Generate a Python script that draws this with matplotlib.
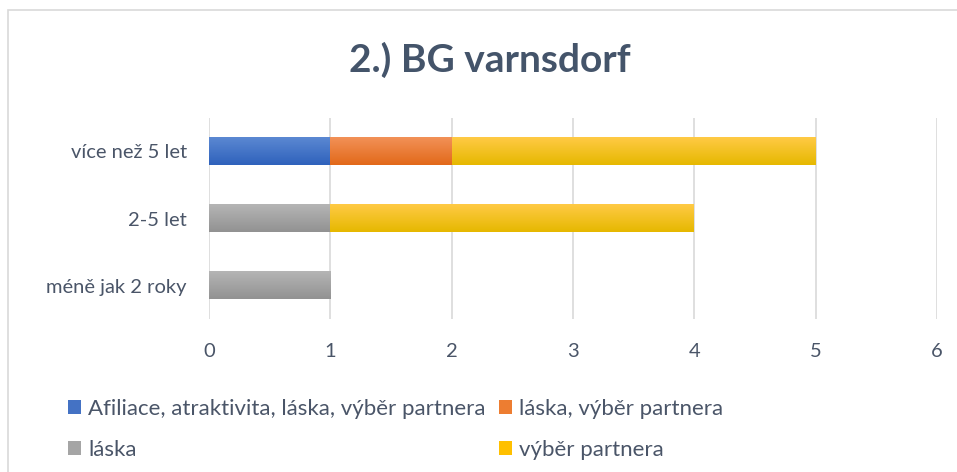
import numpy as np
import matplotlib.pyplot as plt
from matplotlib.patches import Rectangle
from matplotlib.colors import LinearSegmentedColormap

categories = ["méně jak 2 roky", "2-5 let", "více než 5 let"]
series_names = ["Afiliace, atraktivita, láska, výběr partnera", "láska, výběr partnera",
                "láska", "výběr partnera"]
afiliace = [0, 0, 1]
laska_vyber = [0, 0, 1]
laska = [1, 1, 0]
vyber = [0, 3, 3]
colors = ["#4472C4", "#ED7D31", "#A5A5A5", "#FFC000"]
# light top / darker bottom for the bar shading
grad_top = ["#5B88D2", "#F29157", "#B5B5B5", "#FFCA45"]
grad_bot = ["#2F62BC", "#E2691A", "#929292", "#E6B800"]
x_ticks = [0, 1, 2, 3, 4, 5, 6]

plt.rcParams['font.family'] = ['Lato', 'DejaVu Sans']
text_col = "#4A5568"

fig = plt.figure(figsize=(9.57, 4.72), dpi=100)
fig.patches.append(Rectangle((8 / 957, -0.1), 1.2, 1 - 10 / 472 + 0.1, transform=fig.transFigure,
                             fill=False, edgecolor="#D9D9D9", linewidth=1.2))

ax = fig.add_axes([209 / 957, 1 - 319 / 472, 728 / 957, 201 / 472])

y = range(len(categories))
left = [0] * len(categories)
bars = []
for i, (vals, name, c) in enumerate(zip([afiliace, laska_vyber, laska, vyber], series_names, colors)):
    b = ax.barh(y, vals, left=left, height=0.41, color=c, label=name, zorder=3)
    bars.append(b)
    cmap = LinearSegmentedColormap.from_list("g%d" % i, [grad_bot[i], grad_top[i]])
    for r in b.patches:
        if r.get_width() <= 0:
            continue
        x0, y0 = r.get_x(), r.get_y()
        ax.imshow(np.linspace(0, 1, 50).reshape(-1, 1), cmap=cmap, origin="lower", aspect="auto",
                  extent=[x0, x0 + r.get_width(), y0, y0 + r.get_height()], zorder=4)
    left = [l + v for l, v in zip(left, vals)]

ax.set_xlim(0, 6)
ax.set_ylim(-0.5, 2.5)
ax.set_xticks(x_ticks)
ax.set_yticks(list(y))
ax.set_yticklabels(categories)
ax.grid(axis="x", color="#D9D9D9", linewidth=1.2, zorder=0)
for s in ax.spines.values():
    s.set_visible(False)
ax.tick_params(length=0, labelsize=14.5, labelcolor=text_col)
ax.tick_params(axis="y", pad=16)
ax.tick_params(axis="x", pad=17)

fig.text(490 / 957, 1 - 60 / 472, "2.) BG varnsdorf", ha="center", va="center",
         fontsize=28, fontweight="bold", color="#44546A")

handles = [bars[0], bars[2], bars[1], bars[3]]
labels = [series_names[0], series_names[2], series_names[1], series_names[3]]
fig.legend(handles, labels, ncol=2, loc="upper left", bbox_to_anchor=(48 / 957, 1 - 379 / 472),
           frameon=False, fontsize=16, labelcolor=text_col, handlelength=0.6, handleheight=0.6,
           handletextpad=0.3, columnspacing=0.6, labelspacing=0.95)

fig.savefig("out.png", dpi=100)
